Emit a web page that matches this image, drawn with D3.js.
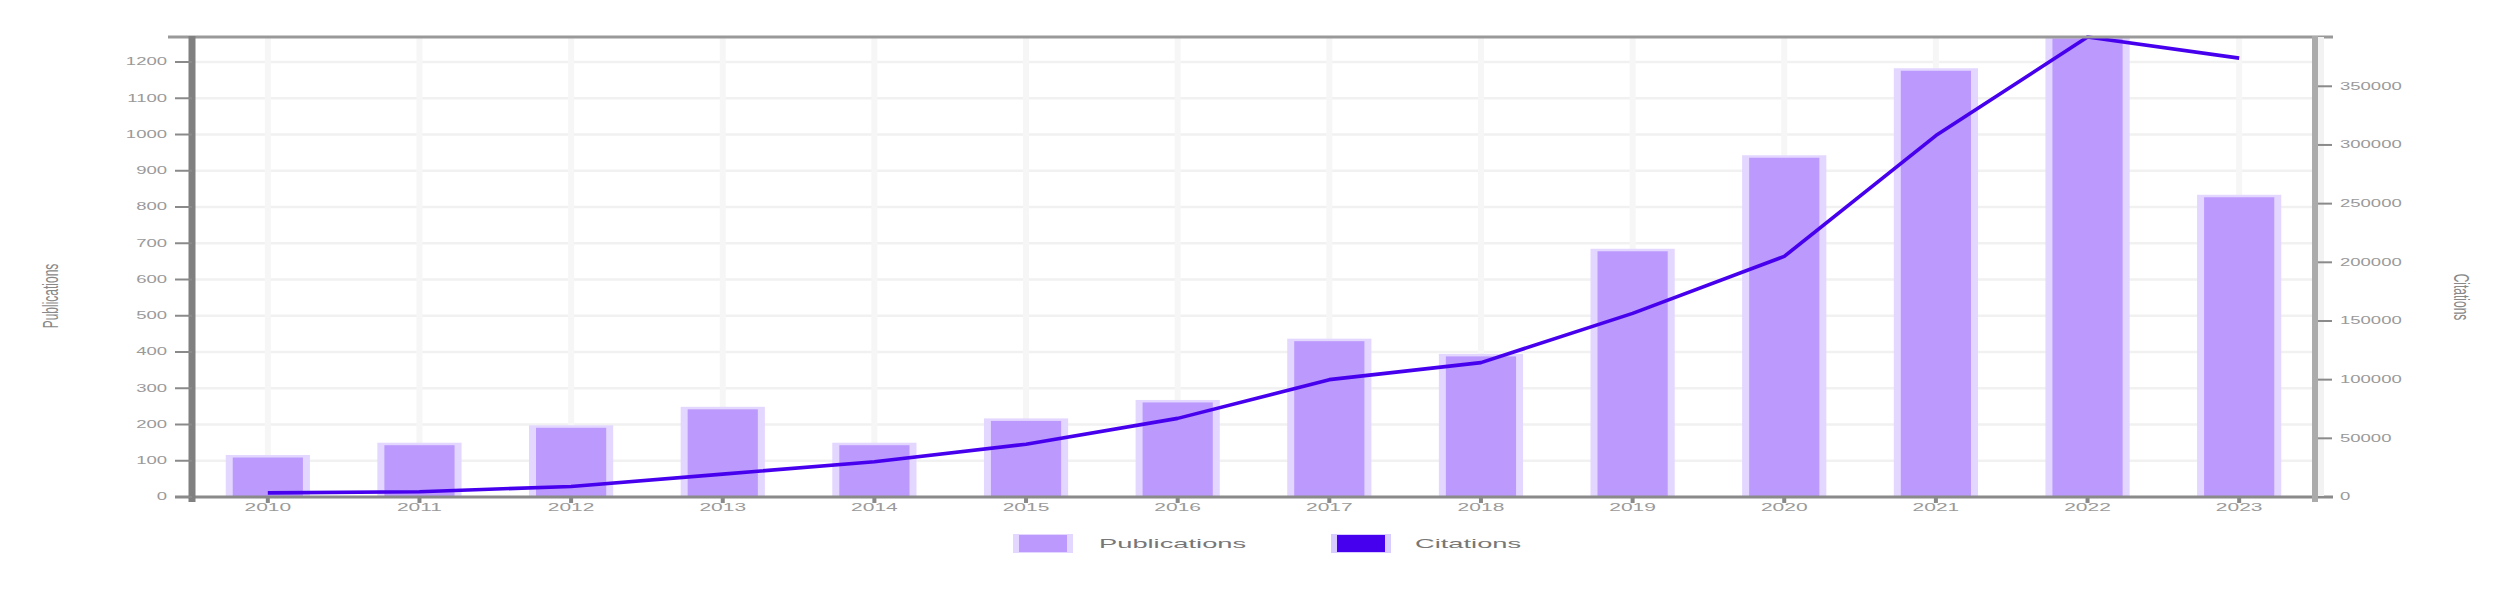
<!DOCTYPE html>
<html>
<head>
<meta charset="utf-8">
<script src="https://cdn.jsdelivr.net/npm/d3@7/dist/d3.min.js"></script>
<style>
  html, body { margin: 0; padding: 0; background: #fff; }
  svg { display: block; font-family: "Liberation Sans", Arial, sans-serif; }
</style>
</head>
<body>
<svg id="chart" width="2493" height="600"></svg>
<script>
// ---- data ----
const years = ["2010","2011","2012","2013","2014","2015","2016","2017","2018","2019","2020","2021","2022","2023"];
const publications = [113, 147, 195, 246, 147, 214, 265, 434, 392, 682, 940, 1180, 1269, 831];
const citations = [3500, 4500, 9000, 19500, 30000, 45000, 67000, 100000, 114500, 156500, 205000, 308000, 392000, 374000];
const leftTicks = [0, 100, 200, 300, 400, 500, 600, 700, 800, 900, 1000, 1100, 1200];
const rightTicks = [0, 50000, 100000, 150000, 200000, 250000, 300000, 350000];
const seriesNames = ["Publications", "Citations"];
const axisTitles = ["Publications", "Citations"];

// ---- layout ----
const L = 192, R = 2315, T = 37, B = 497;
const barColor = "#bb99fd", barEdge = "#e3d6ff", lineColor = "#4700ee";
const svg = d3.select("#chart");

const x = d3.scaleBand().domain(years).range([L, R]).paddingInner(0.445).paddingOuter(0.2225);
const yL = d3.scaleLinear().domain([0, d3.max(publications)]).range([B, T]);
const yR = d3.scaleLinear().domain([0, d3.max(citations)]).range([B, T]);
const cx = d => x(d) + x.bandwidth() / 2;

function stext(g, px, py, txt, o) {
  return g.append("text")
    .attr("transform", `translate(${px},${py}) scale(${o.sx},1)` + (o.rot ? ` rotate(${o.rot})` : ""))
    .attr("text-anchor", o.anchor || "start")
    .attr("dominant-baseline", "central")
    .attr("font-size", o.size)
    .attr("fill", o.color || "#8a8a8a")
    .text(txt);
}

// ---- grid ----
const grid = svg.append("g");
grid.selectAll("line.h").data(leftTicks).join("line")
  .attr("x1", L).attr("x2", R).attr("y1", d => yL(d)).attr("y2", d => yL(d))
  .attr("stroke", "#f1f1f1").attr("stroke-width", 2.5);
grid.selectAll("line.v").data(years).join("line")
  .attr("x1", d => cx(d)).attr("x2", d => cx(d)).attr("y1", T).attr("y2", B)
  .attr("stroke", "#f6f6f6").attr("stroke-width", 6);

// ---- bars ----
const bars = svg.append("g");
bars.selectAll("rect.o").data(years).join("rect")
  .attr("x", d => x(d)).attr("width", x.bandwidth())
  .attr("y", (d, i) => yL(publications[i]) - 1).attr("height", (d, i) => B - yL(publications[i]) + 1)
  .attr("fill", barEdge);
bars.selectAll("rect.i").data(years).join("rect")
  .attr("x", d => x(d) + 7).attr("width", x.bandwidth() - 14)
  .attr("y", (d, i) => yL(publications[i]) + 1.5).attr("height", (d, i) => Math.max(0, B - yL(publications[i]) - 1.5))
  .attr("fill", barColor);

// ---- line ----
svg.append("path")
  .datum(years.map((d, i) => [cx(d), yR(citations[i])]))
  .attr("d", d3.line())
  .attr("fill", "none").attr("stroke", lineColor).attr("stroke-width", 3.6)
  .attr("stroke-linejoin", "round");

// ---- axes frame ----
const ax = svg.append("g");
ax.append("line").attr("x1", 168).attr("x2", 2333).attr("y1", T).attr("y2", T).attr("stroke", "#999").attr("stroke-width", 3);
ax.append("line").attr("x1", 175).attr("x2", 2333).attr("y1", B).attr("y2", B).attr("stroke", "#8a8a8a").attr("stroke-width", 3);
ax.append("line").attr("x1", L).attr("x2", L).attr("y1", T - 1).attr("y2", B + 5).attr("stroke", "#808080").attr("stroke-width", 7);
ax.append("line").attr("x1", R).attr("x2", R).attr("y1", T - 1).attr("y2", B + 5).attr("stroke", "#ababab").attr("stroke-width", 6);
ax.append("line").attr("x1", R + 6).attr("x2", R + 6).attr("y1", T).attr("y2", B).attr("stroke", "#f2f2f2").attr("stroke-width", 6);

// left ticks + labels
ax.selectAll("line.lt").data(leftTicks).join("line")
  .attr("x1", 175).attr("x2", L).attr("y1", d => yL(d)).attr("y2", d => yL(d))
  .attr("stroke", "#8a8a8a").attr("stroke-width", 2);
leftTicks.forEach(t => stext(ax, 167, yL(t), String(t), { sx: 1.85, size: 10, anchor: "end", color: "#9a9a9a" }));

// right ticks + labels
ax.selectAll("line.rt").data(rightTicks).join("line")
  .attr("x1", R + 3).attr("x2", 2332).attr("y1", d => yR(d)).attr("y2", d => yR(d))
  .attr("stroke", "#8a8a8a").attr("stroke-width", 2);
rightTicks.forEach(t => stext(ax, 2340, yR(t), String(t), { sx: 1.85, size: 10, anchor: "start", color: "#9a9a9a" }));

// x ticks + labels
ax.selectAll("line.xt").data(years).join("line")
  .attr("x1", d => cx(d)).attr("x2", d => cx(d)).attr("y1", B).attr("y2", B + 6)
  .attr("stroke", "#8a8a8a").attr("stroke-width", 4);
years.forEach(d => stext(ax, cx(d), 507, d, { sx: 2.1, size: 10, anchor: "middle", color: "#9a9a9a" }));

// axis titles
stext(ax, 51, 296, axisTitles[0], { sx: 1.8, size: 12, anchor: "middle", rot: -90, color: "#888" });
stext(ax, 2461, 297, axisTitles[1], { sx: 1.8, size: 12, anchor: "middle", rot: 90, color: "#888" });

// ---- legend ----
const lg = svg.append("g");
const legendItems = [
  { name: seriesNames[0], x: 1013, fill: barColor, edge: barEdge, tx: 1099 },
  { name: seriesNames[1], x: 1331, fill: lineColor, edge: "#d8ccff", tx: 1415 }
];
legendItems.forEach(it => {
  lg.append("rect").attr("x", it.x).attr("y", 534).attr("width", 60).attr("height", 19).attr("fill", it.edge);
  lg.append("rect").attr("x", it.x + 6).attr("y", 535).attr("width", 48).attr("height", 17).attr("fill", it.fill);
  stext(lg, it.tx, 543.5, it.name, { sx: 2.1, size: 13, anchor: "start", color: "#777" });
});
</script>
</body>
</html>
